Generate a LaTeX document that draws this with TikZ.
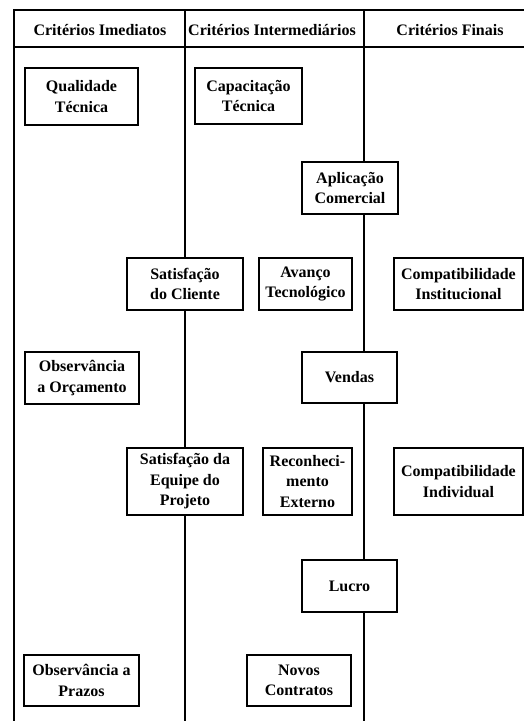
\documentclass[tikz,border=0pt]{standalone}
\usepackage{fontspec}
\setmainfont{Liberation Serif}
\usetikzlibrary{positioning}
\usetikzlibrary{calc}
\tikzset{
  crit/.style={draw, fill=white, line width=1.6pt, inner sep=0pt, align=center,
    font=\bfseries\fontsize{16}{20.5}\selectfont},
  coltitle/.style={inner sep=0pt, font=\bfseries\fontsize{16}{20.5}\selectfont},
  frame/.style={line width=1.5pt}
}
\begin{document}
\begin{tikzpicture}[x=1pt, y=-1pt]
\useasboundingbox (0,0) rectangle (524,721);

% table frame
\coordinate (TL) at (14,10);
\coordinate (TR) at (524,10);
\coordinate (HL) at (14,47);
\coordinate (HR) at (524,47);
\coordinate (BL) at (14,721);
\coordinate (C1T) at (185,10);
\coordinate (C1B) at (185,721);
\coordinate (C2T) at (364,10);
\coordinate (C2B) at (364,721);
\draw[frame] (TR) -- (TL) -- (BL);
\draw[frame] (HL) -- (HR);
\draw[frame] (C1T) -- (C1B);
\draw[frame] (C2T) -- (C2B);

% column titles
\node[coltitle] (imed) at (100,30) {Critérios Imediatos};
\node[coltitle] (inter) at (272,30) {Critérios Intermediários};
\node[coltitle] (finais) at (450,30) {Critérios Finais};

%%%Imediatos
\node[crit, minimum width=113pt, minimum height=57pt] (qual) at (81.5,96.5) {Qualidade\\Técnica};
\node[crit, minimum width=114pt, minimum height=52pt] (orcam) at (82,378) {Observância\\a Orçamento};
\node[crit, minimum width=115pt, minimum height=51pt] (prazos) at (81.5,680.5) {Observância a\\Prazos};
\node[crit, minimum width=116pt, minimum height=52pt] (satcli) at (185,284) {Satisfação\\do Cliente};
\node[crit, minimum width=116pt, minimum height=67pt] (sateq) at (185,481.5) {Satisfação da\\Equipe do\\Projeto};

%%%Intermediarios
\node[crit, minimum width=107pt, minimum height=56pt] (capac) at (248.5,96) {Capacitação\\Técnica};
\node[crit, minimum width=93pt, minimum height=52pt] (avanco) at (305.5,284) {Avanço\\Tecnológico};
\node[crit, minimum width=89pt, minimum height=67pt] (reconh) at (307.5,481.5) {Reconheci-\\mento\\Externo};
\node[crit, minimum width=104pt, minimum height=51pt] (novos) at (299,680.5) {Novos\\Contratos};
\node[crit, minimum width=96pt, minimum height=52pt] (aplic) at (350,188) {Aplicação\\Comercial};
\node[crit, minimum width=95pt, minimum height=51pt] (vendas) at (349.5,377.5) {Vendas};
\node[crit, minimum width=95pt, minimum height=52pt] (lucro) at (349.5,586) {Lucro};

%%%Finais
\node[crit, minimum width=129pt, minimum height=52pt] (compinst) at (458.5,284) {Compatibilidade\\Institucional};
\node[crit, minimum width=129pt, minimum height=67pt] (compind) at (458.5,481.5) {Compatibilidade\\Individual};

\end{tikzpicture}
\end{document}
